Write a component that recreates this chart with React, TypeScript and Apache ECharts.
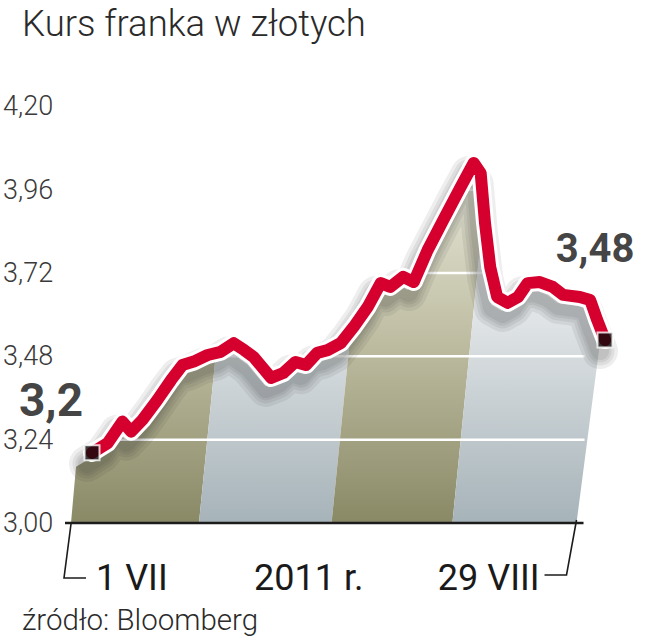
import React, { useEffect, useRef } from "react";
import * as echarts from "echarts";

const title = "Kurs franka w złotych";
const source = "źródło: Bloomberg";
const xLabels = ["1 VII", "2011 r.", "29 VIII"];
const startLabel = "3,2";
const endLabel = "3,48";
const yMin = 3.0;
const yMax = 4.2;
const yStep = 0.24;
const gridValues = [3.24, 3.48, 3.72, 3.96];
// days since 1 July 2011
const days = [0, 1.8, 3.5, 4.5, 5.8, 7.5, 9.1, 10.4, 11.7, 13.3, 14.8, 16.3, 17.5, 18.6, 20.6, 22.0, 23.4, 24.6, 25.9, 27.1, 28.6, 30.1, 31.7, 33.2, 34.3, 35.8, 37.0, 38.6, 40.4, 42.4, 43.9, 44.7, 45.2, 45.8, 46.6, 47.8, 49.0, 50.1, 51.5, 53.0, 54.2, 56.1, 57.3, 58.1, 59];
const rates = [3.202, 3.23, 3.292, 3.263, 3.297, 3.354, 3.412, 3.455, 3.465, 3.484, 3.493, 3.518, 3.498, 3.478, 3.418, 3.432, 3.464, 3.455, 3.49, 3.498, 3.518, 3.565, 3.622, 3.691, 3.68, 3.709, 3.694, 3.786, 3.873, 3.968, 4.037, 4.008, 3.864, 3.737, 3.651, 3.634, 3.651, 3.691, 3.694, 3.68, 3.657, 3.651, 3.642, 3.585, 3.527];
// band boundaries (in days, measured at the baseline)
const bandEdgeDays = [12.3, 27.55, 41.45];

const FONT = "Roboto, 'Noto Sans', sans-serif";

function clip(poly: number[][], g: (p: number[]) => number) {
  const out: number[][] = [];
  for (let i = 0; i < poly.length; i++) {
    const a = poly[i];
    const b = poly[(i + 1) % poly.length];
    const ga = g(a);
    const gb = g(b);
    if (ga >= 0) out.push(a);
    if (ga >= 0 !== gb >= 0) {
      const t = ga / (ga - gb);
      out.push([a[0] + t * (b[0] - a[0]), a[1] + t * (b[1] - a[1])]);
    }
  }
  return out;
}

export default function App() {
  const ref = useRef<HTMLDivElement>(null);
  useEffect(() => {
    if (!ref.current) return;
    const chart = echarts.init(ref.current, null, { renderer: "svg" });
    const lineData = days.map((d, i) => [d, rates[i]]);
    const n = lineData.length;

    const renderItem = (params: any, api: any) => {
      const pts = lineData.map((p) => api.coord(p));
      const base = api.coord([0, yMin])[1];
      const topY = api.coord([0, 4.05])[1];
      const first = pts[0];
      const last = pts[n - 1];
      const k = 0.1;
      const area: number[][] = [];
      const bl = [first[0] - 21, base];
      area.push(bl);
      area.push([first[0] - 16, first[1] + 14]);
      pts.forEach((p: number[]) => area.push([p[0] - 6, p[1] + 8]));
      const tr = [last[0] - 6, last[1] + 10];
      area.push(tr);
      const br = [tr[0] - 0.13 * (base - tr[1]), base];
      area.push(br);
      const f = (p: number[]) => p[0] - k * (base - p[1]);
      const edges = [-1e9, ...bandEdgeDays.map((d) => api.coord([d, yMin])[0]), 1e9];
      const olive = new echarts.graphic.LinearGradient(0, topY, 0, base, [
        { offset: 0, color: "#e9e9dd" },
        { offset: 0.45, color: "#c3c2a8" },
        { offset: 1, color: "#8a8966" },
      ], true);
      const gray = new echarts.graphic.LinearGradient(0, topY, 0, base, [
        { offset: 0, color: "#f5f6f7" },
        { offset: 0.45, color: "#dfe3e5" },
        { offset: 1, color: "#a6b3b9" },
      ], true);
      const children: any[] = [];
      for (let i = 0; i < edges.length - 1; i++) {
        let poly = clip(area, (p) => f(p) - edges[i]);
        poly = clip(poly, (p) => edges[i + 1] - f(p));
        if (poly.length > 2) {
          children.push({
            type: "polygon",
            shape: { points: poly },
            style: { fill: i % 2 === 0 ? olive : gray },
          });
        }
      }
      gridValues.forEach((v) => {
        const y = api.coord([0, v])[1];
        children.push({
          type: "line",
          shape: { x1: bl[0] - 4, y1: y, x2: br[0] + 8, y2: y },
          style: { stroke: "#ffffff", lineWidth: 2.5 },
        });
      });
      // soft drop shadow of the line
      const shadowPts = pts.map((p: number[]) => [p[0] - 5, p[1] + 11]);
      [36, 29, 23, 18].forEach((w) => {
        children.push({
          type: "polyline",
          shape: { points: shadowPts },
          style: { stroke: "rgba(40,40,40,0.08)", lineWidth: w, lineJoin: "round", lineCap: "round", fill: null },
        });
      });
      children.push({
        type: "line",
        shape: { x1: bl[0] - 6, y1: base, x2: br[0] + 7, y2: base },
        style: { stroke: "#1c1c1c", lineWidth: 2.5 },
      });
      children.push({
        type: "polyline",
        shape: { points: [[bl[0], base + 1], [bl[0] - 7, base + 55], [bl[0] + 15, base + 55]] },
        style: { stroke: "#1c1c1c", lineWidth: 1.6, fill: null },
      });
      children.push({
        type: "polyline",
        shape: { points: [[br[0], base - 3], [br[0] - 10, base + 52], [br[0] - 32, base + 52]] },
        style: { stroke: "#1c1c1c", lineWidth: 1.6, fill: null },
      });
      const ly = base + 55;
      children.push({
        type: "text",
        style: { text: xLabels[0], x: bl[0] + 25, y: ly, fontSize: 36, fontFamily: FONT, fill: "#1a1a1a", align: "left", verticalAlign: "middle" },
      });
      children.push({
        type: "text",
        style: { text: xLabels[1], x: (bl[0] + br[0]) / 2 - 15, y: ly, fontSize: 36, fontFamily: FONT, fill: "#1a1a1a", align: "center", verticalAlign: "middle" },
      });
      children.push({
        type: "text",
        style: { text: xLabels[2], x: br[0] - 37, y: ly, fontSize: 36, fontFamily: FONT, fill: "#1a1a1a", align: "right", verticalAlign: "middle" },
      });
      return { type: "group", children };
    };

    chart.setOption({
      animation: false,
      grid: { left: 91, right: 44, top: 106.4, bottom: 117 },
      xAxis: { type: "value", min: 0, max: 59, show: false },
      yAxis: {
        type: "value",
        min: yMin,
        max: yMax,
        interval: yStep,
        axisLine: { show: false },
        axisTick: { show: false },
        splitLine: { show: false },
        axisLabel: {
          formatter: (v: number) => v.toFixed(2).replace(".", ","),
          align: "left",
          margin: 89,
          fontSize: 27,
          fontWeight: 300,
          fontFamily: FONT,
          color: "#3a3a3a",
        },
      },
      graphic: [
        { type: "text", left: 22, top: 5, style: { text: title, fontSize: 36.5, fontWeight: 300, fontFamily: FONT, fill: "#2a2a2a" } },
        { type: "text", left: 22, top: 605, style: { text: source, fontSize: 29.5, fontWeight: 300, fontFamily: FONT, fill: "#2a2a2a" } },
      ],
      series: [
        {
          type: "custom",
          data: [[0, yMin]],
          renderItem,
          clip: false,
          silent: true,
          z: 1,
        },
        {
          type: "line",
          data: lineData,
          symbol: "none",
          silent: true,
          z: 2,
          lineStyle: { color: "#ffffff", width: 18, cap: "round", join: "round" },
        },
        {
          type: "line",
          data: lineData,
          symbol: "none",
          silent: true,
          z: 3,
          lineStyle: { color: "#d6002f", width: 12, cap: "round", join: "round" },
        },
        {
          type: "scatter",
          z: 4,
          symbol: "rect",
          symbolSize: 15,
          itemStyle: { color: "#0a0a0a", borderColor: "#ffffff", borderWidth: 2 },
          label: {
            show: true,
            position: "inside",
            fontWeight: "bold",
            fontFamily: FONT,
            color: "#111111",
          },
          data: [
            { value: lineData[0], label: { formatter: startLabel, fontSize: 46, offset: [-41, -53] } },
            { value: lineData[n - 1], label: { formatter: endLabel, fontSize: 40, offset: [-10, -92] } },
          ],
        },
      ],
    });
    return () => chart.dispose();
  }, []);
  return <div ref={ref} style={{ position: "fixed", left: 0, top: 0, width: 649, height: 640, background: "#fff" }} />;
}
